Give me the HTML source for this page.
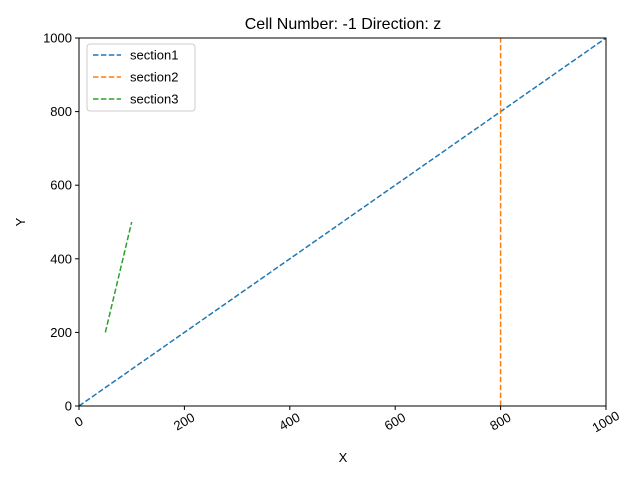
<!DOCTYPE html>
<html><head><meta charset="utf-8"><style>
body{margin:0;background:#fff;}
svg{display:block;font-family:"Liberation Sans","DejaVu Sans",sans-serif;}
</style></head><body>
<svg id="chart" width="640" height="480">
<rect width="640" height="480" fill="#fff"/>
<text x="343" y="29" font-size="16" text-anchor="middle">Cell Number: -1 Direction: z</text>
<g id="plot"></g>
<rect x="79" y="38" width="527" height="368" fill="none" stroke="#000" stroke-width="1"/>
<text x="343" y="462" font-size="13" text-anchor="middle">X</text>
<text x="25" y="222" font-size="13" text-anchor="middle" transform="rotate(-90 25 222)">Y</text>
<g>
<rect x="87" y="44" width="108" height="67" rx="3" fill="#fff" fill-opacity="0.8" stroke="#ccc"/>
</g>
</svg>
<script>
const xTicks=[0,200,400,600,800,1000];
const yTicks=[0,200,400,600,800,1000];
const seriesNames=["section1","section2","section3"];
const seriesColors=["#1f77b4","#ff7f0e","#2ca02c"];
const s1x=[0,1000], s1y=[0,1000];
const s2x=[800,800], s2y=[0,1000];
const s3x=[50,100], s3y=[200,500];
const NS="http://www.w3.org/2000/svg";
const L=79,R=606,T=38,B=406;
const sx=v=>L+(v-0)/(1000-0)*(R-L);
const sy=v=>B-(v-0)/(1000-0)*(B-T);
const svg=document.getElementById('chart');
const plot=document.getElementById('plot');
function mk(t,a,p){const e=document.createElementNS(NS,t);for(const k in a)e.setAttribute(k,a[k]);(p||svg).appendChild(e);return e;}
xTicks.forEach(v=>{
 const l=mk('line',{x1:sx(v),x2:sx(v),y1:B,y2:B+4,stroke:'#000'});
 
 
 const t=mk('text',{x:sx(v),y:B+20,'font-size':13,'text-anchor':'middle',transform:`rotate(-30 ${sx(v)} ${B+16})`});
 t.textContent=v;
 
 
});
yTicks.forEach(v=>{
 const l=mk('line',{x1:L-4,x2:L,y1:sy(v),y2:sy(v),stroke:'#000'});
 
 
 const t=mk('text',{x:L-7,y:sy(v)+4.5,'font-size':13,'text-anchor':'end'});
 t.textContent=v;
 
 
});
const xs=[s1x,s2x,s3x], ys=[s1y,s2y,s3y];
xs.forEach((X,i)=>{
 const pts=X.map((x,j)=>sx(x)+','+sy(ys[i][j])).join(' ');
 const p=mk('polyline',{points:pts,fill:'none',stroke:seriesColors[i],'stroke-width':1.5,'stroke-dasharray':'5.5,2.4'},plot);
 
 
});
seriesNames.forEach((n,i)=>{
 const y=55+i*22;
 const l=mk('line',{x1:93,x2:121,y1:y,y2:y,stroke:seriesColors[i],'stroke-width':1.5,'stroke-dasharray':'5.5,2.4'});
 
 
 const t=mk('text',{x:130,y:y+4.5,'font-size':13});
 t.textContent=n;
 
 
});
</script>
</body></html>
